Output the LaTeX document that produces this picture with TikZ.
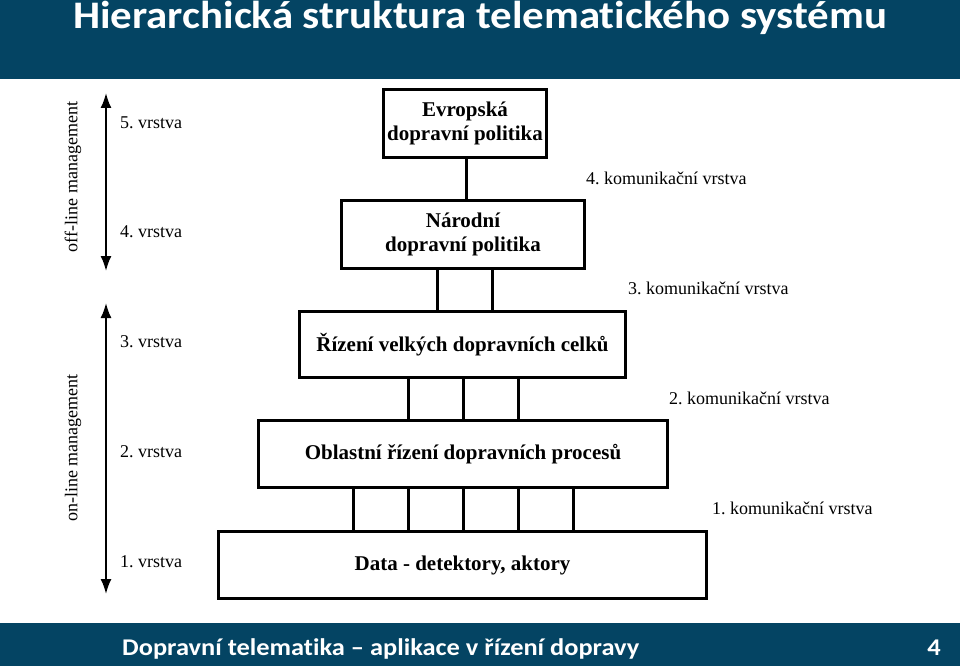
\documentclass[tikz,border=0pt]{standalone}
\usepackage{fontspec}
\setmainfont{Liberation Serif}
\newfontfamily\slidefont[Ligatures=NoCommon]{Carlito}
\usetikzlibrary{arrows.meta}
\definecolor{barblue}{RGB}{4,68,99}
\frenchspacing

\begin{document}
\begin{tikzpicture}[x=1pt,y=-1pt,
	level/.style={draw,line width=3pt,fill=white,align=center,inner sep=0pt,font=\fontsize{21}{24}\selectfont\bfseries},
	link/.style={line width=3pt},
	layer/.style={anchor=west,font=\fontsize{18}{20}\selectfont,inner sep=0pt},
	span/.style={line width=2pt,{Latex[length=15pt,width=11pt]}-{Latex[length=15pt,width=11pt]}},
	slide/.style={text=white,inner sep=0pt,font=\slidefont\bfseries}]
			\useasboundingbox (0,0) rectangle (960,666);
			\fill[barblue] (0,0) rectangle (960,79);
			\fill[barblue] (0,623) rectangle (960,666);
			\node[slide,anchor=base west] (title) at (73,29) {\scalebox{1.1}[1]{\fontsize{39}{44}\selectfont Hierarchická struktura telematického systému}};
			\node[slide,anchor=base west] (foot) at (122,655) {\scalebox{1.1}[1]{\fontsize{24}{28}\selectfont Dopravní telematika – aplikace v řízení dopravy}};
			\node[slide,anchor=base east] (page) at (941,655) {\scalebox{1.1}[1]{\fontsize{24}{28}\selectfont 4}};
			% levels
			\node[level,minimum width=163,minimum height=68] (E) at (465,123.5) {Evropská\\dopravní politika};
			\node[level,minimum width=243,minimum height=68] (N) at (463,234.5) {Národní\\dopravní politika};
			\node[level,minimum width=326,minimum height=66] (R) at (462.5,344.5) {Řízení velkých dopravních celků};
			\node[level,minimum width=409,minimum height=67] (O) at (463,454) {Oblastní řízení dopravních procesů};
			\node[level,minimum width=488,minimum height=67] (D) at (462.5,565) {Data - detektory, aktory};
			% communication links
			\draw[link] ([xshift=1pt]E.south) -- ([xshift=1pt]E.south |- N.north);
			\foreach \dx in {-26,29}
				\draw[link] ([xshift=\dx]N.south) -- ([xshift=\dx]N.south |- R.north);
			\foreach \dx in {-55,0,55}
				\draw[link] ([xshift=\dx]O.north) -- ([xshift=\dx]O.north |- R.south);
			\foreach \dx in {-110,-55,0,55,110}
				\draw[link] ([xshift=\dx]O.south) -- ([xshift=\dx]O.south |- D.north);
			\foreach \n/\x/\y in {4/586/178,3/628/288,2/669/398,1/712/508}
				\node[layer] (k\n) at (\x,\y) {\n. komunikační vrstva};
			% layers and management
			\foreach \n/\y in {5/123,4/232,3/342,2/452,1/562}
				\node[layer] (v\n) at (120,\y) {\n. vrstva};
			\coordinate (offtop) at (106,93);
			\coordinate (offbot) at (106,271);
			\coordinate (ontop) at (106,303);
			\coordinate (onbot) at (106,594);
			\draw[span] (offtop) -- (offbot);
			\draw[span] (ontop) -- (onbot);
			\node[rotate=90,inner sep=0pt,font=\fontsize{18}{20}\selectfont] (off) at (73,177) {off-line management};
			\node[rotate=90,inner sep=0pt,font=\fontsize{18}{20}\selectfont] (on) at (73,448) {on-line management};
		\end{tikzpicture}
\end{document}
